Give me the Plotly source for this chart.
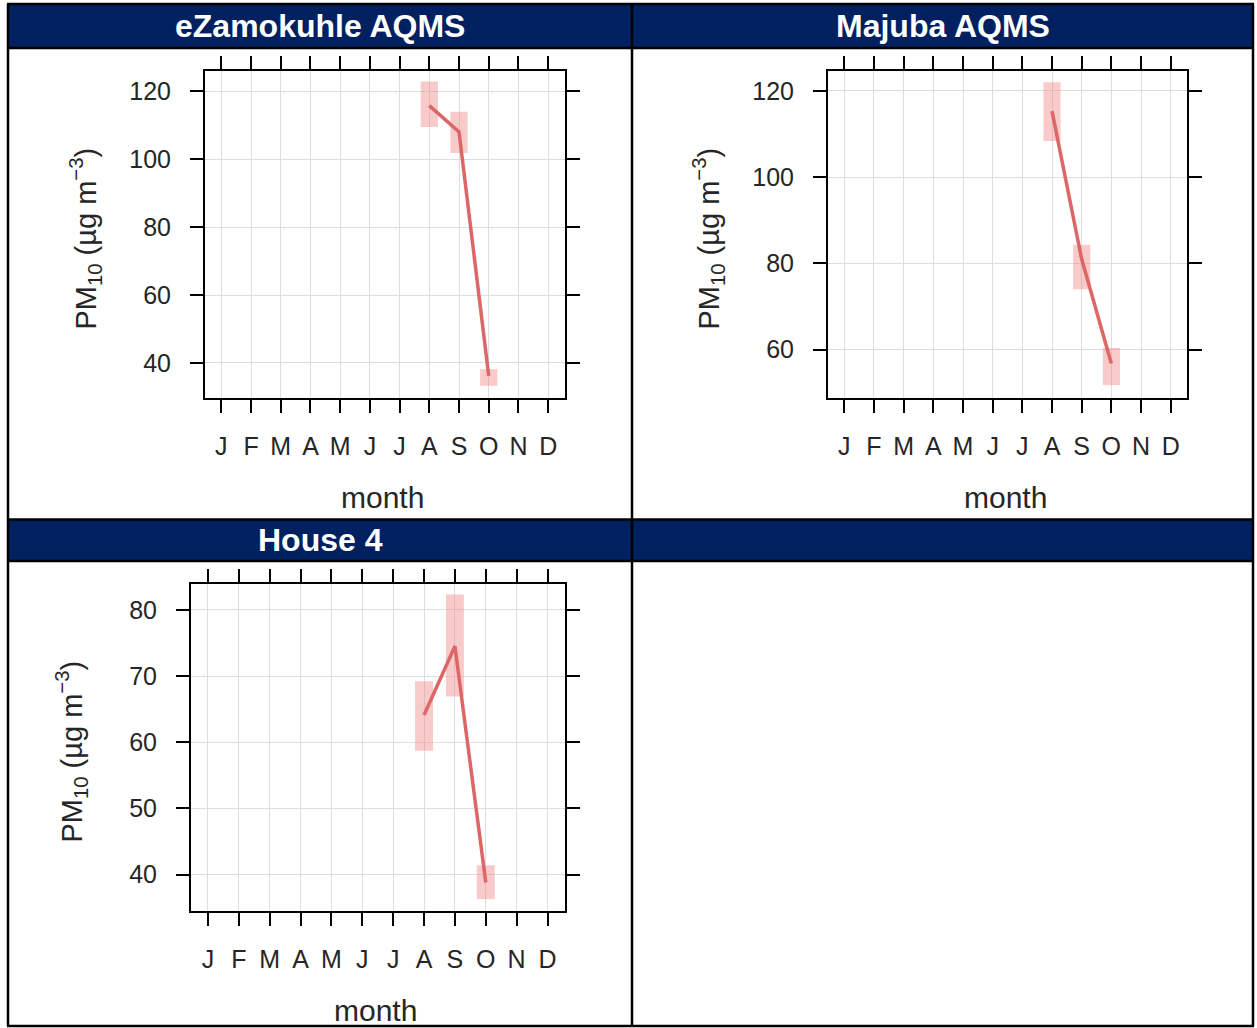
import plotly.graph_objects as go

# Monthly PM10 means with confidence intervals at three monitoring sites
months = ["J", "F", "M", "A", "M", "J", "J", "A", "S", "O", "N", "D"]
month_nums = list(range(1, 13))
obs_months = [8, 9, 10]

site_names = ["eZamokuhle AQMS", "Majuba AQMS", "House 4"]

ezamo_mean = [115.7, 108.0, 36.2]
ezamo_lower = [109.4, 101.8, 33.3]
ezamo_upper = [122.8, 113.9, 38.2]

majuba_mean = [115.3, 81.0, 56.8]
majuba_lower = [108.4, 74.0, 51.8]
majuba_upper = [122.0, 84.3, 60.4]

house4_mean = [64.1, 74.5, 38.8]
house4_lower = [58.7, 66.9, 36.3]
house4_upper = [69.2, 82.3, 41.4]

ezamo_yticks = [40, 60, 80, 100, 120]
majuba_yticks = [60, 80, 100, 120]
house4_yticks = [40, 50, 60, 70, 80]

W, H = 1257, 1028
NAVY = "#002060"
FONT = "Liberation Sans, Arial, sans-serif"
TEXT_COL = "#262626"
LINE_COL = "rgb(221,102,102)"
CI_COL = "rgba(240,128,128,0.42)"


def fx(px):
    return px / W


def fy(py):
    return 1 - py / H


panels = [
    dict(mean=ezamo_mean, lo=ezamo_lower, hi=ezamo_upper, ticks=ezamo_yticks,
         yr=[29.7, 125.9], box=(205, 564.5, 71, 398)),
    dict(mean=majuba_mean, lo=majuba_lower, hi=majuba_upper, ticks=majuba_yticks,
         yr=[48.8, 124.6], box=(828, 1187, 71, 398)),
    dict(mean=house4_mean, lo=house4_lower, hi=house4_upper, ticks=house4_yticks,
         yr=[34.5, 83.9], box=(191, 564.5, 584, 911)),
]

fig = go.Figure()
layout_axes = {}
annotations = []

for i, p in enumerate(panels, start=1):
    xa = "x" if i == 1 else f"x{i}"
    ya = "y" if i == 1 else f"y{i}"
    span = [h - l for h, l in zip(p["hi"], p["lo"])]
    fig.add_trace(go.Bar(
        x=obs_months, y=span, base=p["lo"], width=0.58,
        marker=dict(color=CI_COL, line=dict(width=0)),
        xaxis=xa, yaxis=ya, showlegend=False, hoverinfo="skip"))
    fig.add_trace(go.Scatter(
        x=obs_months, y=p["mean"], mode="lines",
        line=dict(color=LINE_COL, width=3.5),
        xaxis=xa, yaxis=ya, showlegend=False))

    x0, x1, y0, y1 = p["box"]
    common = dict(
        showline=True, linecolor="black", linewidth=2, mirror="ticks",
        ticks="outside", ticklen=13, tickwidth=2, tickcolor="black",
        showgrid=True, gridcolor="#dedede", gridwidth=1, zeroline=False,
        tickfont=dict(family=FONT, size=25, color=TEXT_COL),
    )
    xkey = "xaxis" if i == 1 else f"xaxis{i}"
    ykey = "yaxis" if i == 1 else f"yaxis{i}"
    layout_axes[xkey] = dict(
        common, domain=[fx(x0), fx(x1)], anchor=ya, range=[0.45, 12.55],
        tickmode="array", tickvals=month_nums, ticktext=months,
        ticklabelstandoff=12)
    layout_axes[ykey] = dict(
        common, domain=[fy(y1), fy(y0)], anchor=xa, range=p["yr"],
        tickmode="array", tickvals=p["ticks"],
        ticktext=[str(t) for t in p["ticks"]], ticklabelstandoff=14)

    # axis titles
    annotations.append(dict(
        x=fx((x0 + x1) / 2 - 2), y=fy(y1 + 99), xref="paper", yref="paper",
        text="month", showarrow=False, xanchor="center", yanchor="middle",
        font=dict(family=FONT, size=30, color=TEXT_COL)))
    annotations.append(dict(
        x=fx(x0 - 120), y=fy((y0 + y1) / 2 + 4), xref="paper", yref="paper",
        text="PM<sub>10</sub> (µg m<sup>−3</sup>)", textangle=-90,
        showarrow=False, xanchor="center", yanchor="middle",
        font=dict(family=FONT, size=29, color=TEXT_COL)))

# table frame with navy header rows
LEFT, MID, RIGHT = 8, 632, 1253
TOP, HDR1_BOT, HDR2_TOP, HDR2_BOT, BOTTOM = 4, 48, 519.5, 561, 1026
shapes = []
for (ya0, ya1) in [(TOP, HDR1_BOT), (HDR2_TOP, HDR2_BOT)]:
    shapes.append(dict(type="rect", xref="paper", yref="paper",
                       x0=fx(LEFT), x1=fx(RIGHT), y0=fy(ya1), y1=fy(ya0),
                       fillcolor=NAVY, line=dict(width=0), layer="below"))
for yy in [TOP, HDR1_BOT, HDR2_TOP, HDR2_BOT, BOTTOM]:
    shapes.append(dict(type="line", xref="paper", yref="paper",
                       x0=fx(LEFT - 1), x1=fx(RIGHT + 1), y0=fy(yy), y1=fy(yy),
                       line=dict(color="black", width=2.5)))
for xx in [LEFT, MID, RIGHT]:
    shapes.append(dict(type="line", xref="paper", yref="paper",
                       x0=fx(xx), x1=fx(xx), y0=fy(BOTTOM), y1=fy(TOP),
                       line=dict(color="black", width=2.5)))

header_pos = [((LEFT + MID) / 2, (TOP + HDR1_BOT) / 2),
              ((MID + RIGHT) / 2, (TOP + HDR1_BOT) / 2),
              ((LEFT + MID) / 2, (HDR2_TOP + HDR2_BOT) / 2)]
for name, (cx, cy) in zip(site_names, header_pos):
    annotations.append(dict(
        x=fx(cx), y=fy(cy), xref="paper", yref="paper", text=f"<b>{name}</b>",
        showarrow=False, xanchor="center", yanchor="middle",
        font=dict(family=FONT, size=32, color="white")))

fig.update_layout(
    width=W, height=H, margin=dict(l=0, r=0, t=0, b=0),
    paper_bgcolor="white", plot_bgcolor="white",
    shapes=shapes, annotations=annotations, **layout_axes)

fig.write_html("out.html")
